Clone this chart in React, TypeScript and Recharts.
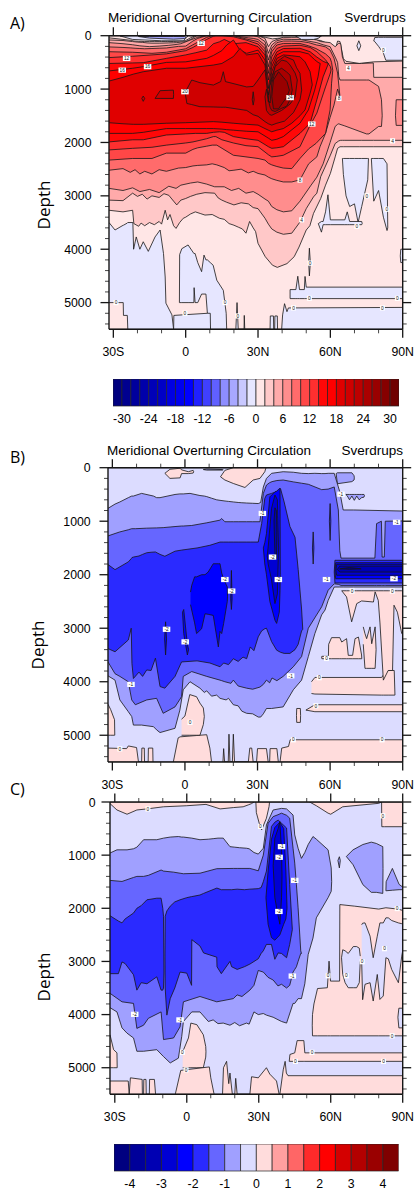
import { Area, Bar, BarChart, ComposedChart, ReferenceDot, XAxis, YAxis } from "recharts";

// every band is a list of [latitude, upper depth, lower depth]
type Row = [number, number, number];
type Tag = [number, number, string];

const latTicks = [-30, -20, -10, 0, 10, 20, 30, 40, 50, 60, 70, 80, 90];
const depthTicks = [0, 200, 400, 600, 800, 1000, 1200, 1400, 1600, 1800, 2000, 2200, 2400, 2600, 2800, 3000, 3200, 3400, 3600, 3800, 4000, 4200, 4400, 4600, 4800, 5000, 5200, 5400];

const scale32 = ["#000080", "#00008f", "#00009c", "#0000aa", "#0000b8", "#0000c6", "#0000e2", "#0000f0", "#0000ff", "#2020ff", "#4040ff", "#6060ff", "#8d8dff", "#a8a8ff", "#c8c8ff", "#e6e6ff", "#ffe6e6", "#ffc8c8", "#ffaaaa", "#ff8d8d", "#ff6b6b", "#ff4747", "#ff2f2f", "#ff0808", "#ff0000", "#e00000", "#cf0000", "#bd0000", "#aa0000", "#990000", "#860000", "#700000"];
const scale18 = ["#000080", "#00009a", "#0000b3", "#0000d4", "#0000ff", "#2a2aff", "#6666ff", "#a0a0ff", "#dcdcff", "#ffdcdc", "#ffa0a0", "#ff6666", "#ff2a2a", "#ff0000", "#d40000", "#b30000", "#9a0000", "#7f0000"];
const ticks32 = ["-30", "-24", "-18", "-12", "-6", "0", "6", "12", "18", "24", "30"];
const ticks18 = ["-4", "-3", "-2", "-1", "0", "1", "2", "3", "4"];

// ---- panel A
const aBase: Row[] = [[-31.8, 0, 5500], [90, 0, 5500]];
const aBlueLeft: Row[] = [[-31.8, 3500, 5000], [-29.3, 3640, 5000], [-25.9, 3550, 5000], [-25.8, 3550, 5240], [-24.2, 3510, 5240], [-24, 3500, 5500], [-21.9, 3500, 5500], [-21.6, 4000, 5500], [-20.5, 3770, 5500], [-19, 4000, 5500], [-17.6, 3860, 5500], [-15.5, 4040, 5500], [-12.7, 3770, 5500], [-10.6, 3640, 5500], [-9.2, 4080, 5500], [-8.5, 4520, 5500], [-8.2, 5010, 5500], [-5.7, 5230, 5500], [-5, 5500, 5500]];
const aBlueMid: Row[] = [[-2.6, 5000, 5000], [-2.5, 4100, 5000], [-1.6, 3990, 5000], [1, 3920, 5000], [3.4, 4080, 5000], [3.5, 4080, 4720], [3.9, 4080, 5000], [5, 4250, 5000], [6.6, 4420, 4840], [7.6, 4110, 4840], [8.4, 4200, 4840], [9, 4200, 5200], [10.2, 4250, 5500], [11.4, 4300, 5500], [12.9, 4580, 5500], [15.6, 4770, 5500], [16.8, 5200, 5500], [17, 5500, 5500]];
const aBlueLow: Row[] = [[-5, 5500, 5500], [-4.9, 5240, 5500], [9, 5200, 5500], [10.2, 5200, 5500], [10.3, 5500, 5500]];
const aStripeUp: Row[] = [[43.3, 4840, 4840], [43.3, 4756, 4925], [45.7, 4756, 4925], [46.5, 4506, 4925], [47.2, 4756, 4925], [49.2, 4756, 4925], [49.5, 4510, 4925], [50, 4710, 4925], [90, 4710, 4925]];
const aStripeLow: Row[] = [[39.8, 5500, 5500], [40.2, 5230, 5500], [41, 5020, 5500], [42, 5170, 5500], [42.6, 5100, 5500], [90, 5090, 5500]];
const aBlueBits: Row[] = [[20.8, 5500, 5500], [21.3, 5000, 5500], [21.8, 5500, 5500], [24.2, 5500, 5500], [24.3, 5240, 5500], [24.5, 5500, 5500], [35, 5500, 5500], [35.1, 5250, 5500], [36.4, 5250, 5500], [36.5, 5500, 5500], [36.9, 5500, 5500], [37, 5250, 5500], [38, 5250, 5500], [38.1, 5500, 5500]];
const aSliver: Row[] = [[51, 4250, 4250], [51.3, 3980, 4500], [51.7, 4250, 4250]];
const aEdge: Row[] = [[89, 4125, 4125], [89.2, 4000, 4250], [90, 4000, 4250]];
const aBlockOne: Row[] = [[65, 2300, 2300], [65.4, 2300, 2600], [66.5, 2300, 3000], [68, 2300, 3200], [70, 2300, 3150], [71.5, 2300, 3500], [73, 2300, 3200], [75.5, 2300, 2700], [75.8, 2300, 2300]];
const aBlockTwo: Row[] = [[77, 2300, 2300], [78, 2300, 3100], [80, 2300, 2900], [82, 2300, 3400], [83.5, 2400, 3650], [83.8, 3600, 3600]];
const aBlockFoot: Row[] = [[55, 3520, 3520], [56.3, 3480, 3680], [57, 3480, 3540], [58, 3300, 3540], [59, 2980, 3540], [60, 3450, 3540], [66, 3450, 3540], [67, 3300, 3540], [68, 3480, 3540], [73, 3480, 3540], [73.2, 3520, 3520]];
const aLensLeft: Row[] = [[-27.2, 5, 5], [-22, 0, 70], [-10, 0, 95], [-1, 0, 95], [0.5, 0, 30], [1, 0, 0]];
const aLensInner: Row[] = [[-19.6, 15, 15], [-15, 15, 45], [-5, 15, 65], [-0.5, 15, 55], [0, 30, 30]];
const aLensRight: Row[] = [[45.4, 0, 0], [48, 0, 70], [53, 0, 70], [55, 20, 50], [56.4, 0, 0]];
const aLensSmall: Row[] = [[71, 190, 190], [71.8, 95, 280], [72.6, 190, 190]];
const aCorner: Row[] = [[78, 100, 100], [78.4, 35, 110], [80, 30, 200], [82, 30, 330], [83, 30, 460], [90, 30, 460]];
const a2: Row[] = [[-31.8, 40, 3270], [-26, 70, 3300], [-22, 90, 3270], [-21.5, 100, 3520], [-19.5, 105, 3570], [-18.5, 105, 3510], [-17, 110, 3560], [-15, 110, 3500], [-13, 110, 3540], [-11, 110, 3480], [-10, 110, 3530], [-8.5, 110, 3270], [-7.5, 110, 3450], [-6.5, 110, 3350], [-5, 108, 3560], [-4, 105, 3610], [-2.5, 100, 3500], [-1, 95, 3420], [0, 90, 3400], [2, 40, 3340], [4, 0, 3300], [6, 0, 3330], [8, 0, 3360], [11, 0, 3350], [14, 0, 3420], [16, 0, 3440], [18, 0, 3520], [20, 0, 3550], [22, 0, 3590], [23.5, 0, 3620], [25, 0, 3700], [26.5, 0, 3480], [28, 0, 3600], [29, 0, 3670], [30, 0, 3890], [33, 30, 4140], [36, 60, 4300], [38, 50, 4340], [42, 35, 4270], [45, 50, 4140], [47, 65, 3960], [50, 70, 3640], [51.5, 72, 3560], [53, 75, 3330], [56, 90, 3050], [58, 130, 2800], [60, 170, 2580], [62, 270, 2270], [63, 100, 2110], [64, 110, 2080], [65.4, 430, 2080], [66.5, 480, 2080], [72, 520, 2080], [78, 490, 2080], [90, 475, 2080]];
const a4: Row[] = [[-31.8, 80, 3080], [-26, 90, 3090], [-22, 110, 2950], [-20, 120, 3010], [-18, 125, 2970], [-16, 135, 3060], [-14, 140, 3000], [-11, 140, 3030], [-9, 138, 2960], [-7, 135, 2990], [-5, 132, 3100], [-3.7, 130, 3170], [-2, 120, 3080], [0, 110, 3050], [2, 70, 3010], [4.6, 0, 2970], [8, 0, 2940], [12, 0, 2950], [13.5, 0, 3040], [15, 0, 3080], [17, 0, 3120], [20, 0, 3170], [23, 0, 3130], [26, 0, 3150], [28, 0, 3220], [30, 0, 3240], [32.9, 50, 3420], [34.3, 206, 3530], [35.7, 112, 3620], [37.8, 70, 3680], [40.5, 30, 3720], [44, 30, 3700], [47.4, 30, 3490], [50, 50, 3240], [53, 70, 3020], [54.4, 80, 2950], [56, 110, 2640], [59.9, 130, 2250], [62, 206, 2020], [63.5, 140, 1970], [64.3, 150, 1960], [65, 400, 1960], [66, 520, 1960], [73, 520, 1960], [77.8, 510, 1960], [78, 780, 1960], [90, 780, 1960]];
const a6: Row[] = [[-31.8, 130, 2860], [-26, 150, 2900], [-22, 170, 2850], [-19, 190, 2920], [-15, 205, 2880], [-11, 195, 2940], [-7, 180, 2820], [-4, 165, 2860], [-2, 150, 2800], [2, 80, 2760], [5, 30, 2740], [8.7, 0, 2780], [12, 0, 2830], [16, 0, 2830], [19, 0, 2900], [22, 0, 2860], [25, 0, 2950], [28, 0, 2920], [30, 20, 2970], [32.9, 110, 3060], [34.3, 330, 3100], [35.7, 175, 3200], [37.8, 95, 3260], [40.5, 65, 3300], [44, 70, 3280], [47.4, 70, 3100], [52, 110, 2800], [54.4, 130, 2650], [57, 170, 2400], [59.9, 206, 2000], [62, 400, 1700], [63, 500, 1660], [63.5, 770, 1650], [64, 830, 1660], [66, 830, 1690], [69, 830, 1740], [75, 830, 1840], [76, 830, 1840], [80, 950, 1700], [81.2, 1200, 1700], [81.5, 1500, 1500]];
const a6Edge: Row[] = [[87, 1500, 1500], [87.3, 1200, 1680], [90, 1200, 1680]];
const a8: Row[] = [[-31.8, 210, 2520], [-26, 220, 2490], [-23, 228, 2560], [-21, 235, 2510], [-19, 240, 2590], [-17, 245, 2540], [-14, 240, 2590], [-11, 235, 2510], [-8, 230, 2540], [-3, 200, 2480], [0, 195, 2470], [3, 100, 2440], [5, 50, 2430], [8.7, 0, 2420], [11, 0, 2400], [12.9, 0, 2420], [16, 0, 2470], [18, 0, 2530], [20, 0, 2520], [23, 20, 2500], [26, 40, 2570], [28, 50, 2540], [30, 70, 2580], [32.9, 175, 2610], [34.3, 456, 2650], [35.7, 240, 2680], [37.8, 130, 2710], [40.5, 100, 2740], [44, 100, 2740], [47.4, 105, 2700], [51, 130, 2400], [54.4, 175, 2270], [55.7, 185, 2080], [58, 210, 1830], [59.9, 270, 1530], [61.5, 420, 1300], [63, 700, 1000], [64, 1150, 1150]];
const a10: Row[] = [[-31.8, 300, 2330], [-22, 310, 2300], [-14, 330, 2300], [-8, 310, 2200], [0, 245, 2200], [3, 170, 2130], [5, 120, 2100], [8.7, 30, 2070], [11, 0, 2050], [12.9, 0, 2050], [19.8, 0, 2240], [25, 60, 2270], [30, 110, 2300], [32.9, 240, 2330], [34.3, 580, 2390], [35.7, 300, 2420], [37.8, 175, 2450], [40.5, 145, 2480], [44, 145, 2490], [47.4, 145, 2300], [51, 190, 2120], [54, 240, 2020], [58, 340, 1830], [59.9, 420, 1390], [60.5, 500, 890], [61, 650, 650]];
const a12: Row[] = [[-31.8, 410, 2140], [-22, 385, 2110], [-14, 360, 2090], [-8, 340, 2050], [0, 280, 2010], [3, 220, 1990], [5.9, 145, 1960], [8.7, 70, 1930], [11.5, 10, 1890], [12.5, 0, 1890], [15, 0, 1950], [19.8, 20, 2010], [25, 80, 2060], [30, 156, 2080], [32.9, 300, 2180], [34.3, 706, 2230], [35.7, 394, 2270], [37.8, 240, 2260], [40.5, 194, 2240], [47.4, 180, 2080], [51.6, 220, 1680], [54.4, 300, 1450], [58, 450, 960], [60, 580, 700], [60.3, 640, 640]];
const a14: Row[] = [[-31.8, 520, 1990], [-22, 510, 1950], [-17.6, 505, 1950], [-8, 425, 1860], [0, 360, 1840], [4, 320, 1830], [8.7, 270, 1830], [11.5, 150, 1810], [14, 115, 1800], [16, 70, 1810], [19.8, 150, 1890], [25, 130, 1930], [30, 206, 1960], [32.9, 360, 2040], [34.3, 830, 2080], [35.7, 490, 2110], [37.8, 300, 2100], [40.5, 240, 2080], [47.4, 235, 1830], [51.6, 300, 1640], [54.4, 400, 1200], [57, 480, 770], [59.2, 520, 520]];
const a16: Row[] = [[-31.8, 660, 1830], [-22, 610, 1830], [-17.6, 580, 1810], [-8, 500, 1740], [0, 490, 1740], [8.7, 425, 1740], [11.5, 370, 1740], [15, 280, 1750], [17, 175, 1760], [19.8, 80, 1770], [22.5, 270, 1780], [25.3, 330, 1790], [30, 270, 1800], [32.9, 456, 1880], [34.3, 990, 1920], [35.7, 580, 1960], [37.8, 360, 1940], [40.5, 300, 1890], [47.4, 300, 1640], [50.9, 340, 1390], [53.5, 450, 1020], [54.9, 500, 770], [55.8, 520, 520]];
const a18: Row[] = [[-31.8, 850, 1630], [-26, 780, 1650], [-21.7, 720, 1660], [-17.6, 675, 1660], [-7.9, 610, 1640], [0, 610, 1630], [11.5, 550, 1610], [15, 520, 1620], [19.8, 390, 1640], [22.5, 240, 1650], [25.3, 360, 1660], [30, 330, 1675], [32.9, 550, 1740], [34.3, 1110, 1770], [35.7, 675, 1800], [37.8, 425, 1770], [40.5, 360, 1740], [44, 375, 1640], [47.4, 395, 1500], [49.5, 490, 1390], [51.6, 675, 1080], [52.5, 920, 920]];
const a20: Row[] = [[-0.3, 1050, 1050], [0.5, 1000, 1270], [2.5, 830, 1290], [5.9, 880, 1330], [11.5, 925, 1335], [14.5, 860, 1340], [15.6, 675, 1340], [16.5, 860, 1340], [25.3, 960, 1400], [28, 950, 1480], [30, 830, 1510], [32.9, 640, 1610], [34.3, 1210, 1650], [35.7, 770, 1675], [37.8, 490, 1640], [41, 385, 1600], [44.7, 456, 1440], [46, 600, 1330], [47.4, 706, 1200], [48.1, 1020, 1020]];
const a20Blob: Row[] = [[-12.7, 1175, 1175], [-10.6, 1030, 1175], [-5.1, 1020, 1175], [-5, 1100, 1100]];
const a20Dot: Row[] = [[-18.2, 1175, 1175], [-17.6, 1130, 1230], [-17, 1175, 1175]];
const a22Oval: Row[] = [[27.6, 1200, 1200], [28, 1050, 1300], [28.4, 1200, 1200]];
const a22: Row[] = [[32.9, 1145, 1145], [33.5, 1000, 1400], [34.3, 1240, 1450], [34.9, 940, 1480], [35.7, 830, 1490], [37.1, 580, 1460], [39.8, 456, 1400], [41.9, 480, 1330], [43.3, 550, 1280], [45.4, 700, 1145], [46.3, 830, 830]];
const a24: Row[] = [[34.3, 1210, 1210], [35, 1260, 1340], [35.7, 890, 1400], [37.1, 675, 1420], [39.8, 610, 1360], [41.9, 680, 1320], [43.3, 740, 1200], [44.2, 1020, 1020]];
const a26: Row[] = [[35.7, 1140, 1140], [36.4, 830, 1370], [38.5, 675, 1370], [40.5, 780, 1240], [42, 860, 1150], [43, 1020, 1020]];
const aTags: Tag[] = [[-24.5, 425, "12"], [-26.3, 645, "16"], [-15.8, 580, "16"], [6.4, 145, "12"], [-0.3, 1050, "20"], [43.3, 1160, "24"], [52.3, 1655, "12"], [63.6, 1175, "8"], [67.5, 610, "4"], [85.8, 1970, "4"], [47.4, 2705, "8"], [48.1, 3450, "4"], [82, 270, "0"], [75.1, 3000, "0"], [83.4, 3250, "0"], [71, 3570, "0"], [51.6, 4260, "0"], [51.3, 4920, "0"], [87.8, 4920, "0"], [44.7, 5100, "0"], [81.6, 5100, "0"], [-28.9, 5000, "0"], [-0.3, 5200, "0"], [16.3, 5000, "0"], [21.6, 5250, "0"]];

// ---- panel B
const bBase: Row[] = [[-31.8, 0, 5500], [90, 0, 5500]];
const bL1: Row[] = [[-31.8, 760, 3890], [-28.9, 680, 3970], [-26.9, 640, 4340], [-23.4, 560, 4560], [-22, 530, 4650], [-21.3, 530, 4810], [-17.9, 480, 4810], [-13, 530, 4840], [-11.7, 560, 4900], [-10.3, 560, 4950], [-4.1, 500, 4870], [-2.1, 490, 4530], [-0.7, 490, 4150], [2.1, 480, 4000], [6.2, 520, 4120], [8, 530, 4200], [9, 540, 4170], [11, 570, 4270], [13.1, 600, 4250], [14.5, 610, 4310], [17, 625, 4340], [18, 630, 4310], [20, 640, 4430], [22, 650, 4450], [23.5, 655, 4550], [25.5, 660, 4590], [28, 665, 4600], [30.3, 670, 4660], [31.3, 650, 4660], [32.4, 360, 4600], [33.7, 200, 4500], [35.8, 105, 4500], [40.6, 75, 4470], [44.8, 85, 4150], [48.2, 105, 3970], [51, 110, 3530], [53.7, 105, 3100], [56.5, 110, 2750], [57.9, 110, 2660], [59.2, 105, 2480], [61.7, 105, 2230], [64, 450, 2230], [65.4, 790, 2230], [69.6, 790, 2230], [90, 810, 2230]];
const bCap: Row[] = [[62.5, 110, 110], [63, 95, 300], [69, 95, 260], [69.9, 150, 230], [70, 190, 190]];
const bTeeth: Row[] = [[66.5, 500, 500], [67, 500, 520], [68, 500, 600], [69, 500, 530], [70, 500, 610], [71, 500, 530], [72, 500, 600], [73, 500, 560], [74, 500, 550], [74.2, 520, 520]];
const bL2: Row[] = [[-31.8, 1275, 3630], [-28.9, 1230, 3850], [-26.9, 1200, 3900], [-23.4, 1160, 4000], [-22, 1140, 4340], [-20.5, 1140, 4430], [-15.8, 1130, 4340], [-11.7, 1125, 4310], [-9, 1120, 4590], [-4.1, 1100, 4470], [-1.4, 1090, 4280], [-0.7, 1090, 3900], [2.8, 1080, 3810], [9, 1030, 3900], [14.5, 980, 3970], [15.2, 950, 3980], [16.5, 1010, 4000], [19, 1010, 4030], [20, 1010, 3970], [22, 1010, 4080], [25.5, 1010, 4120], [28, 1010, 4140], [31, 1010, 4100], [32.4, 480, 4050], [33.7, 325, 3970], [35, 280, 4020], [36, 260, 3930], [38, 240, 3980], [40.6, 230, 3900], [44.8, 265, 3720], [48.2, 290, 3530], [51, 310, 3000], [56.5, 410, 2600], [59.2, 400, 2290], [61.7, 360, 2170], [63.4, 790, 2180], [64, 1550, 2190], [64.5, 1690, 2200], [78.5, 1690, 2200], [79.2, 1045, 2200], [81.2, 1000, 2200], [81.5, 1670, 2200], [82.4, 1670, 2200], [82.8, 1000, 2200], [90, 995, 2200]];
const bL3: Row[] = [[-31.8, 1810, 3380], [-28.9, 1905, 3440], [-23.4, 1760, 3220], [-22.2, 1700, 3000], [-21.9, 1680, 3660], [-21.3, 1670, 3940], [-19, 1650, 3820], [-17.5, 1620, 3900], [-15.8, 1590, 3780], [-14, 1580, 3790], [-12.2, 1575, 3560], [-10.3, 1620, 4090], [-8.3, 1655, 4120], [-4.1, 1560, 3900], [-1.4, 1540, 3630], [5, 1500, 3610], [10.3, 1450, 3650], [14.5, 1390, 3720], [16, 1390, 3650], [18, 1390, 3680], [20, 1390, 3570], [22, 1390, 3620], [24, 1390, 3540], [25.5, 1390, 3570], [27, 1390, 3350], [28.5, 1390, 3420], [30.3, 1390, 3160], [31.7, 1045, 3050], [33, 575, 3010], [33.7, 510, 3000], [35.8, 480, 3250], [37.9, 450, 3410], [39.5, 390, 3450], [41, 640, 3470], [43.4, 1100, 3470], [45.5, 1300, 3400], [46.8, 1900, 3300], [48.2, 2640, 3050], [48.7, 3020, 3020]];
const bL3SliverOne: Row[] = [[52.7, 1500, 1500], [53, 1200, 1800], [53.3, 1500, 1500]];
const bL3SliverTwo: Row[] = [[59.7, 1000, 1000], [60, 670, 1360], [60.3, 1000, 1000]];
const bL4Blob: Row[] = [[2.3, 2325, 2560], [2.8, 2200, 2660], [4, 2040, 2900], [4.8, 2040, 3100], [6.9, 2000, 3010], [8.3, 2000, 2730], [9.6, 1950, 2740], [11.7, 1795, 2760], [13.8, 1795, 3350], [14.5, 1795, 3060], [15.2, 1970, 3100], [16, 2080, 2910], [17.5, 2230, 2500], [17.6, 2400, 2400]];
const bL4SliverOne: Row[] = [[-8.4, 3200, 3200], [-8, 2880, 3500], [-7.6, 3200, 3200]];
const bL4SliverTwo: Row[] = [[-1, 2700, 2700], [-0.5, 2650, 3100], [1, 3300, 3500], [1.5, 3400, 3400]];
const bL4SliverThree: Row[] = [[18.9, 2450, 2450], [19.2, 1920, 2650], [19.5, 2450, 2450]];
const bL4Col: Row[] = [[32.4, 1500, 1500], [33, 1400, 1800], [33.7, 1230, 2000], [35.1, 545, 2500], [37.2, 450, 2850], [37.9, 440, 2910], [39, 390, 2700], [39.3, 390, 2300], [39.4, 2000, 2000]];
const bL5Col: Row[] = [[34, 1650, 1650], [34.4, 1480, 1800], [35.8, 760, 2100], [37.2, 510, 2540], [38.2, 600, 2360], [38.7, 1500, 1500]];
const bL6Col: Row[] = [[36.8, 1000, 1000], [37.2, 750, 1600], [37.8, 800, 1700], [38, 1200, 1200]];
const bBand3: Row[] = [[61.7, 1950, 1950], [62, 1730, 2155], [90, 1730, 2155]];
const bBand4: Row[] = [[62, 1940, 1940], [62.3, 1775, 2075], [90, 1775, 2075]];
const bBand5: Row[] = [[62.4, 1920, 1920], [62.7, 1805, 2010], [90, 1805, 2010]];
const bBand6: Row[] = [[63, 1900, 1900], [64, 1840, 1950], [90, 1840, 1950]];
const bLens: Row[] = [[64, 1890, 1890], [68, 1865, 1900], [72.8, 1890, 1890]];
const bIslandOne: Row[] = [[-8.3, 105, 105], [-6.2, 30, 200], [-2, 10, 190], [-1.4, 40, 110], [1.4, 75, 110], [3.4, 50, 100], [3.6, 75, 75]];
const bLensTop: Row[] = [[7.6, 35, 35], [9, 25, 45], [15.5, 35, 45], [15.8, 35, 35]];
const bIslandTwo: Row[] = [[14.7, 170, 170], [16.5, 50, 230], [20, 0, 295], [24.8, 0, 370], [28.2, 0, 230], [31, 0, 200], [33, 0, 75], [33.5, 0, 0]];
const bPinkRight: Row[] = [[64.8, 2300, 2300], [66.8, 2300, 2415], [68.9, 2300, 2880], [71, 2300, 2540], [73, 2300, 2490], [77.9, 2300, 2510], [78.6, 2300, 2320], [79.9, 2300, 2480], [80.6, 2300, 2900], [82, 2300, 3970], [84, 2300, 3790], [85.8, 2300, 3790], [86.4, 2300, 2570], [87.8, 2300, 2700], [89.6, 2300, 3100], [90, 2300, 3100]];
const bPillar: Row[] = [[73.7, 2975, 3300], [74.4, 3100, 3750], [75.1, 3195, 3750], [76.5, 2975, 3750], [77.2, 3290, 3750], [78.6, 2975, 3750], [79, 3400, 3400]];
const bBlock: Row[] = [[56.5, 3530, 3530], [56.6, 3525, 3570], [59.3, 3525, 3570], [59.4, 3300, 3570], [60.6, 3176, 3570], [64, 3176, 3570], [64.8, 3258, 3570], [66.8, 3195, 3570], [67.5, 3507, 3570], [69.3, 3507, 3570], [70.3, 3195, 3570], [71.7, 3165, 3570], [73, 3500, 3570], [73.1, 3570, 3570]];
const bStair: Row[] = [[52.3, 4000, 4220], [53.7, 3920, 4230], [81.3, 3920, 4250], [82, 3875, 4250], [84, 3790, 4250], [86.5, 3790, 4250], [86.8, 4250, 4250]];
const bStripe: Row[] = [[50, 4530, 4530], [53.7, 4430, 4560], [90, 4430, 4560]];
const bSmall: Row[] = [[46.1, 4630, 4630], [46.2, 4500, 4760], [47.7, 4500, 4760], [47.8, 4630, 4630]];
const bFloor: Row[] = [[39.3, 5500, 5500], [40, 5240, 5500], [42.8, 5210, 5500], [43.5, 5085, 5500], [90, 5085, 5500]];
const bLeft: Row[] = [[-31.8, 4420, 5000], [-30.7, 4520, 5000], [-29.1, 4710, 5000], [-29, 5000, 5000]];
const bFloorLeft: Row[] = [[-31.8, 5240, 5500], [-24.1, 5250, 5500], [-23.4, 5200, 5500], [-20, 5230, 5500], [-19.2, 5500, 5500], [-17.9, 5500, 5500], [-17.8, 5240, 5500], [-16.8, 5240, 5500], [-16.7, 5500, 5500], [-15.2, 5500, 5500], [-15.1, 5240, 5500], [-13.3, 5240, 5500], [-13.2, 5500, 5500]];
const bMid: Row[] = [[-4.8, 5500, 5500], [-2.8, 5050, 5500], [-2, 5030, 5500], [9, 4990, 5500], [10.3, 5240, 5500], [11, 5500, 5500]];
const bMidUp: Row[] = [[-1.4, 4700, 5000], [0, 4640, 5000], [2, 4240, 5000], [4.8, 4280, 5000], [6.2, 4400, 5000], [7.6, 4490, 4800], [8, 4650, 4650]];
const bSpikes: Row[] = [[15.7, 5500, 5500], [16, 5250, 5500], [16.4, 5500, 5500], [17.9, 5500, 5500], [18.2, 4980, 5500], [18.6, 5500, 5500], [19.6, 5500, 5500], [20, 4980, 5500], [20.5, 5500, 5500], [26.2, 5500, 5500], [26.8, 5240, 5500], [27.6, 5240, 5500], [28.2, 5500, 5500], [29.6, 5500, 5500], [30, 5250, 5500], [33.7, 5250, 5500], [34.4, 5500, 5500], [35, 5500, 5500], [35.2, 5250, 5500], [38, 5250, 5500], [38.6, 5500, 5500]];
const bTags: Tag[] = [[32, 855, "-1"], [36.2, 1670, "-2"], [38.6, 2090, "-2"], [58.5, 2090, "-1"], [64.5, 495, "-1"], [87.5, 1020, "-1"], [86.4, 2075, "-2"], [16.5, 2090, "-2"], [19.3, 2305, "-2"], [69.1, 2305, "0"], [85.7, 2305, "0"], [-7.6, 3020, "-2"], [0.1, 3255, "-2"], [-22.3, 4050, "-1"], [43.7, 3890, "-1"], [2.1, 4760, "0"], [55.5, 3925, "0"], [58.5, 3565, "0"], [54.1, 4450, "0"], [44.8, 5085, "0"], [81.5, 5085, "0"], [-26.9, 5255, "0"]];

// ---- panel C
const cBase: Row[] = [[-32, 0, 5500], [90, 0, 5500]];
const cTopPink: Row[] = [[-32, 0, 30], [-29.1, 0, 150], [-24.9, 0, 230], [-20.8, 0, 150], [-16.6, 0, 130], [-9.7, 0, 90], [0, 0, 70], [8, 0, 45], [13.9, 0, 130], [19.4, 0, 105], [23.5, 0, 90], [25.6, 0, 55], [27, 0, 30], [28, 0, 0]];
const cBlobPink: Row[] = [[28.8, 0, 0], [29, 0, 200], [30.5, 0, 450], [31.2, 0, 525], [33.2, 0, 305], [34.3, 0, 85], [34.5, 0, 0]];
const cRightPink: Row[] = [[51.2, 0, 0], [54, 0, 70], [58.9, 0, 210], [60, 0, 230], [65, 0, 90], [80, 0, 25], [81.2, 0, 0], [81.3, 0, 465], [82.4, 0, 465], [90, 0, 465]];
const cL1: Row[] = [[-32, 960, 3870], [-29.1, 900, 3950], [-27, 900, 4250], [-24.9, 900, 4350], [-22.2, 880, 4440], [-20.8, 850, 4690], [-18, 710, 4690], [-12.5, 710, 4660], [-9.7, 680, 4790], [-6.9, 660, 4910], [-3.5, 650, 4820], [-2.1, 660, 4410], [-1.4, 660, 4130], [2.1, 680, 3950], [5.5, 710, 3950], [9, 700, 4130], [11, 690, 4100], [13, 680, 4170], [15.2, 680, 4160], [18, 840, 4200], [20, 850, 4150], [22, 860, 4210], [24.9, 870, 4160], [26, 880, 4180], [28, 950, 3950], [29.8, 980, 4000], [31.9, 870, 3980], [33.2, 430, 4010], [36, 150, 4050], [39.5, 120, 4130], [41.6, 130, 4160], [44.3, 245, 3790], [45, 620, 3790], [46.4, 870, 3700], [47.8, 1060, 3700], [49.2, 950, 3420], [50.6, 800, 2870], [52.6, 650, 2560], [54, 700, 2180], [58.9, 900, 1800], [60.2, 1240, 1680], [60.4, 1500, 1500]];
const cIsle: Row[] = [[66.5, 1025, 1025], [69.3, 900, 1180], [73.4, 800, 1555], [76.9, 755, 1700], [79, 780, 1700], [81.7, 840, 1720], [81.8, 1250, 1250]];
const cIsleEdge: Row[] = [[83, 1670, 1670], [83.1, 1500, 1670], [85.7, 1250, 1660], [88.5, 1550, 1650], [90, 1600, 1650]];
const cIsleSliver: Row[] = [[63, 1100, 1100], [63.6, 1030, 1240], [64, 1100, 1100]];
const cL2: Row[] = [[-32, 1475, 3600], [-27, 1495, 3760], [-22.2, 1420, 3790], [-20.8, 1400, 4260], [-18, 1400, 4200], [-16, 1380, 4070], [-10.7, 1280, 3950], [-9.7, 1300, 4470], [-5.5, 1320, 4440], [-2.8, 1340, 4230], [-1.4, 1350, 3760], [5.5, 1340, 3660], [12.5, 1255, 3760], [19.4, 1250, 3700], [21, 1250, 3630], [23, 1250, 3660], [26.3, 1250, 3540], [28, 1270, 3450], [29.8, 1295, 3170], [31.9, 1000, 3200], [33.9, 400, 3300], [36, 275, 3350], [38, 240, 3460], [39.5, 210, 3430], [41.6, 250, 3500], [42.9, 305, 3450], [44.3, 870, 3200], [45, 1150, 3150], [45.7, 1555, 3100], [46.4, 1990, 3000], [47.5, 2800, 2850], [47.8, 2850, 2850]];
const cL3Left: Row[] = [[-32, 2140, 3230], [-28.5, 2240, 3230], [-27, 2275, 3010], [-25.7, 2200, 3040], [-22.2, 2090, 3250], [-20.8, 2000, 3540], [-19, 1950, 3400], [-16.6, 1840, 3420], [-12.5, 1810, 3290], [-10.7, 1810, 3540], [-10, 2000, 3540], [-9.7, 2150, 3500], [-9.5, 3200, 3200]];
const cL3: Row[] = [[-9.1, 2900, 2900], [-9, 2150, 3500], [-8.3, 2050, 4010], [-6.9, 1960, 3700], [-5, 1880, 3500], [-2.8, 1840, 3200], [0, 1800, 3220], [2, 1780, 3450], [2.1, 1780, 2590], [5.5, 1750, 2710], [7, 1720, 2840], [12.5, 1620, 2920], [12.6, 1620, 3100], [14.4, 1650, 3230], [18, 1650, 3000], [18.7, 1650, 3100], [21, 1640, 3150], [24, 1650, 3100], [26.3, 1640, 3050], [29.8, 1630, 2950], [31, 1610, 2850], [31.9, 1500, 2800], [33.2, 1300, 2680], [35.3, 460, 2680], [36.7, 380, 2960], [38.1, 340, 2840], [39.5, 400, 2850], [41.6, 490, 2930], [42.9, 1555, 2680], [44, 2400, 2400]];
const cL4: Row[] = [[33, 1800, 1800], [33.9, 1300, 2300], [35.3, 700, 2550], [36.7, 480, 2600], [38.8, 380, 2500], [40.4, 500, 2300], [41.3, 1300, 2200], [41.8, 2000, 2000]];
const cL5: Row[] = [[36, 1200, 1200], [36.7, 680, 1800], [38.1, 500, 2150], [38.8, 370, 2300], [39.5, 930, 1800], [39.7, 1400, 1400]];
const cPinkMain: Row[] = [[52.3, 4200, 4200], [52.4, 4000, 4400], [53, 3800, 4400], [54.5, 3510, 4400], [58.6, 3495, 4400], [59.3, 2995, 4400], [59.9, 3370, 4400], [63.7, 3370, 4400], [63.8, 1930, 4400], [70, 1960, 4400], [80, 2015, 4400], [83, 1990, 4400], [88, 2015, 4400], [90, 2040, 4400]];
const cPaleWedge: Row[] = [[72.9, 2310, 2995], [73.3, 2280, 3720], [74.3, 2275, 3430], [76.4, 2525, 3400], [77.7, 2930, 3745], [79.4, 2525, 3245], [80.5, 2275, 3715], [81.9, 2275, 3650], [83, 2180, 2930], [84, 2180, 2950], [85.4, 2230, 3150], [88.2, 2275, 3400], [89.6, 2290, 2900], [90, 2300, 2800]];
const cPalePocket: Row[] = [[64.5, 2930, 2930], [65, 2780, 3245], [66, 2800, 3400], [67.3, 2850, 3495], [69.4, 2720, 3495], [70.8, 2720, 3495], [71.9, 2750, 3400], [72.3, 2900, 3000]];
const cPaleEdge: Row[] = [[88, 4050, 4050], [88.4, 3880, 4250], [90, 3880, 4250]];
const cStripe: Row[] = [[42.7, 4880, 4880], [43, 4750, 4880], [45, 4720, 4880], [46, 4490, 4880], [48.8, 4490, 4880], [49.2, 4720, 4880], [90, 4720, 4880]];
const cFloor: Row[] = [[38.8, 5500, 5500], [40.2, 5040, 5500], [41, 4880, 5500], [41.5, 5100, 5500], [42.2, 5150, 5500], [90, 5150, 5500]];
const cMidUp: Row[] = [[-1.7, 4700, 5000], [0.7, 4440, 5000], [1.7, 4160, 5000], [4.2, 4190, 5000], [6.9, 4380, 5000], [7.9, 4600, 4800], [8, 4700, 4700]];
const cMid: Row[] = [[-4.8, 5500, 5500], [-2.5, 5050, 5500], [9.4, 4985, 5500], [10, 5190, 5500], [11.4, 5500, 5500]];
const cLeft: Row[] = [[-32, 4380, 5000], [-30.5, 4660, 5000], [-29.1, 4720, 5000], [-29, 5000, 5000]];
const cFloorLeft: Row[] = [[-32, 5250, 5500], [-24.4, 5250, 5500], [-24, 5500, 5500], [-23.5, 5190, 5500], [-18.6, 5220, 5500], [-18.5, 5500, 5500], [-18, 5500, 5500], [-17.9, 5220, 5500], [-17, 5220, 5500], [-16.9, 5500, 5500], [-15.6, 5500, 5500], [-15.5, 5220, 5500], [-13.5, 5220, 5500], [-13, 5500, 5500]];
const cSpikes: Row[] = [[14.9, 5500, 5500], [15.3, 5000, 5500], [16.6, 4880, 5500], [17.5, 5300, 5500], [18, 5100, 5500], [19, 5500, 5500], [20, 5500, 5500], [20.4, 5200, 5500], [21, 5500, 5500], [26.3, 5500, 5500], [27, 5170, 5500], [29.8, 5190, 5500], [33.2, 5000, 5500], [34.6, 5120, 5500], [37.4, 5250, 5500], [38.5, 5500, 5500]];
const cTags: Tag[] = [[-16.2, 130, "0"], [81.7, 260, "0"], [30.7, 460, "0"], [39.5, 840, "-1"], [38.5, 1040, "-2"], [45, 1475, "-1"], [38.4, 2060, "-2"], [87.7, 2005, "0"], [82.4, 2760, "0"], [73.1, 3005, "0"], [44, 3275, "-1"], [58.9, 3270, "0"], [66.5, 3270, "0"], [-21.7, 3995, "-2"], [-2.8, 4100, "-1"], [-1.8, 4710, "0"], [-0.3, 5040, "0"], [52.2, 4710, "0"], [45.3, 4880, "0"], [82, 4880, "0"], [85.6, 4400, "0"]];

// painting order, back to front
const layersA: [Row[], string][] = [
  [aBase, "#ffe6e6"], [aBlueLeft, "#e6e6ff"], [aBlueMid, "#e6e6ff"], [aBlueLow, "#e6e6ff"], [aStripeUp, "#e6e6ff"], [aStripeLow, "#e6e6ff"], [aBlueBits, "#e6e6ff"], [aSliver, "#e6e6ff"], [aEdge, "#e6e6ff"], [aBlockOne, "#e6e6ff"], [aBlockTwo, "#e6e6ff"], [aBlockFoot, "#e6e6ff"],
  [a2, "#ffc8c8"], [a4, "#ffaaaa"], [a6, "#ff8d8d"], [a6Edge, "#ff8d8d"], [a8, "#ff6b6b"], [a10, "#ff4747"], [a12, "#ff2f2f"], [a14, "#ff0808"], [a16, "#ff0000"], [a18, "#e00000"], [a20, "#cf0000"], [a20Blob, "#cf0000"], [a20Dot, "#cf0000"], [a22Oval, "#bd0000"], [a22, "#bd0000"], [a24, "#aa0000"], [a26, "#990000"],
  [aLensLeft, "#e6e6ff"], [aLensInner, "#a8a8ff"], [aLensRight, "#e6e6ff"], [aLensSmall, "#e6e6ff"], [aCorner, "#e6e6ff"],
];
const layersB: [Row[], string][] = [
  [bBase, "#dcdcff"], [bLeft, "#ffdcdc"], [bFloorLeft, "#ffdcdc"], [bMid, "#ffdcdc"], [bMidUp, "#ffdcdc"], [bSpikes, "#ffdcdc"], [bFloor, "#ffdcdc"], [bSmall, "#ffdcdc"], [bStripe, "#ffdcdc"], [bStair, "#ffdcdc"], [bPinkRight, "#ffdcdc"], [bPillar, "#ffdcdc"], [bBlock, "#ffdcdc"], [bIslandOne, "#ffdcdc"], [bIslandTwo, "#ffdcdc"],
  [bLensTop, "#a0a0ff"], [bCap, "#a0a0ff"], [bTeeth, "#a0a0ff"], [bL1, "#a0a0ff"], [bL2, "#6666ff"], [bL3, "#2a2aff"], [bL3SliverOne, "#2a2aff"], [bL3SliverTwo, "#2a2aff"], [bBand3, "#2a2aff"], [bL4Blob, "#0000ff"], [bL4SliverOne, "#0000ff"], [bL4SliverTwo, "#0000ff"], [bL4SliverThree, "#0000ff"], [bL4Col, "#0000ff"], [bBand4, "#0000ff"], [bL5Col, "#0000d4"], [bBand5, "#0000d4"], [bL6Col, "#0000b3"], [bBand6, "#0000b3"], [bLens, "#000080"],
];
const layersC: [Row[], string][] = [
  [cBase, "#dcdcff"], [cTopPink, "#ffdcdc"], [cBlobPink, "#ffdcdc"], [cRightPink, "#ffdcdc"], [cPinkMain, "#ffdcdc"], [cPaleWedge, "#dcdcff"], [cPalePocket, "#dcdcff"], [cPaleEdge, "#dcdcff"], [cStripe, "#ffdcdc"], [cFloor, "#ffdcdc"], [cMidUp, "#ffdcdc"], [cMid, "#ffdcdc"], [cLeft, "#ffdcdc"], [cFloorLeft, "#ffdcdc"], [cSpikes, "#ffdcdc"],
  [cL1, "#a0a0ff"], [cIsle, "#a0a0ff"], [cIsleEdge, "#a0a0ff"], [cIsleSliver, "#a0a0ff"], [cL2, "#6666ff"], [cL3Left, "#2a2aff"], [cL3, "#2a2aff"], [cL4, "#0000ff"], [cL5, "#0000d4"],
];

const INK = "#161616";
const sans = "'Liberation Sans', Arial, sans-serif";
const rows = (band: Row[]) => band.map(([lat, top, bot]) => ({ lat, range: [top, bot] }));
const latName = (v: number) => (v === 0 ? "0" : v < 0 ? `${-v}S` : `${v}N`);

function ContourTag({ cx, cy, text }: any) {
  const w = text.length > 1 ? 7.5 : 5;
  return (
    <g>
      <rect x={cx - w / 2} y={cy - 2.6} width={w} height={5.2} fill="#fff" />
      <text x={cx} y={cy + 1.7} fontSize={4.8} textAnchor="middle" fontFamily={sans} fill="#111">{text}</text>
    </g>
  );
}

interface PanelProps {
  top: number;
  height: number;
  left: number;
  plotTop: number;
  plotBottom: number;
  xMin: number;
  layers: [Row[], string][];
  tags: Tag[];
  labelGap: number;
}

function Panel({ top, height, left, plotTop, plotBottom, xMin, layers, tags, labelGap }: PanelProps) {
  const right = 402.7;
  const yTick = (sign: number, text: boolean) => (p: any) => {
    const major = p.payload.value % 1000 === 0;
    return (
      <g>
        <line x1={p.x} x2={p.x + sign * (major ? 8.5 : 4)} y1={p.y} y2={p.y} stroke={INK} strokeWidth={major ? 1.3 : 0.8} />
        {text && major && (
          <text x={p.x - labelGap} y={p.y + 4.5} textAnchor="end" fontSize={12.3} fontFamily={sans} fill="#000">{p.payload.value}</text>
        )}
      </g>
    );
  };
  const xTick = (sign: number, text: boolean) => (p: any) => {
    const major = p.payload.value % 30 === 0;
    return (
      <g>
        <line x1={p.x} x2={p.x} y1={p.y} y2={p.y + sign * (major ? 8.5 : 4)} stroke={INK} strokeWidth={major ? 1.3 : 0.8} />
        {text && major && (
          <text x={p.x} y={p.y + 27} textAnchor="middle" fontSize={12.3} fontFamily={sans} fill="#000">{latName(p.payload.value)}</text>
        )}
      </g>
    );
  };
  const axisLine = { stroke: INK, strokeWidth: 1.4 };
  return (
    <div style={{ position: "absolute", left: 0, top }}>
      <ComposedChart width={417} height={height} margin={{ top: 0, right: 0, bottom: 0, left: 0 }}>
        {layers.map(([band, color], i) => (
          <Area
            key={i}
            data={rows(band)}
            dataKey="range"
            type="linear"
            fill={color}
            fillOpacity={1}
            stroke={INK}
            strokeWidth={0.8}
            dot={false}
            activeDot={false}
            isAnimationActive={false}
          />
        ))}
        <XAxis dataKey="lat" type="number" domain={[xMin, 90]} allowDataOverflow ticks={latTicks} interval={0} height={height - plotBottom} tickSize={0} tickMargin={0} tickLine={false} axisLine={axisLine} tick={xTick(1, true)} />
        <XAxis xAxisId="top" orientation="top" dataKey="lat" type="number" domain={[xMin, 90]} allowDataOverflow ticks={latTicks} interval={0} height={plotTop} tickSize={0} tickMargin={0} tickLine={false} axisLine={axisLine} tick={xTick(-1, false)} />
        <YAxis type="number" reversed domain={[0, 5500]} allowDataOverflow ticks={depthTicks} interval={0} width={left} tickSize={0} tickMargin={0} tickLine={false} axisLine={axisLine} tick={yTick(-1, true)} />
        <YAxis yAxisId="right" orientation="right" type="number" reversed domain={[0, 5500]} allowDataOverflow ticks={depthTicks} interval={0} width={417 - right} tickSize={0} tickMargin={0} tickLine={false} axisLine={axisLine} tick={yTick(1, false)} />
        {tags.map(([lat, depth, text], i) => (
          <ReferenceDot key={i} x={lat} y={depth} r={0} shape={(p: any) => <ContourTag cx={p.cx} cy={p.cy} text={text} />} />
        ))}
      </ComposedChart>
    </div>
  );
}

function ColourBar({ colors, labels, top, left, right, every }: { colors: string[]; labels: string[]; top: number; left: number; right: number; every: number }) {
  const row: Record<string, number | string> = { name: "levels" };
  colors.forEach((_, i) => { row[`c${i}`] = 1; });
  const ticks = labels.map((_, i) => 1 + i * every);
  const tick = (p: any) => (
    <text x={p.x} y={p.y + 17.5} textAnchor="middle" fontSize={12.3} fontFamily={sans} fill="#000">{labels[ticks.indexOf(p.payload.value)]}</text>
  );
  return (
    <div style={{ position: "absolute", left: 0, top }}>
      <BarChart width={417} height={52} layout="vertical" data={[row]} barCategoryGap={0} margin={{ top: 0, right: 417 - right, bottom: 0, left }}>
        <XAxis type="number" domain={[0, colors.length]} allowDataOverflow ticks={ticks} interval={0} height={25.5} tickSize={0} tickMargin={0} tickLine={false} axisLine={false} tick={tick} />
        <YAxis type="category" dataKey="name" hide />
        {colors.map((c, i) => (
          <Bar key={i} dataKey={`c${i}`} stackId="s" fill={c} stroke="#222" strokeWidth={0.7} isAnimationActive={false} />
        ))}
      </BarChart>
    </div>
  );
}

function Note({ x, y, size, family, children, anchorRight }: any) {
  return (
    <div style={{ position: "absolute", top: y, fontSize: size, fontFamily: family, lineHeight: "16px", whiteSpace: "nowrap", color: "#000", ...(anchorRight ? { right: 417 - x } : { left: x }) }}>
      {children}
    </div>
  );
}

function DepthTitle({ x, y }: { x: number; y: number }) {
  return (
    <div style={{ position: "absolute", left: x - 30, top: y - 10, width: 60, height: 20, lineHeight: "20px", textAlign: "center", fontSize: 17, fontFamily: "'Open Sans', sans-serif", transform: "rotate(-90deg)", color: "#000" }}>
      Depth
    </div>
  );
}

export default function App() {
  return (
    <div style={{ position: "absolute", left: 0, top: 0, width: 417, height: 1191, background: "#fff", overflow: "hidden" }}>
      <Panel top={0} height={375} left={109} plotTop={35.7} plotBottom={329.3} xMin={-31.8} layers={layersA} tags={aTags} labelGap={17.5} />
      <Panel top={430} height={365} left={108} plotTop={37.7} plotBottom={332} xMin={-31.8} layers={layersB} tags={bTags} labelGap={17.3} />
      <Panel top={790} height={340} left={110} plotTop={12} plotBottom={304.3} xMin={-32} layers={layersC} tags={cTags} labelGap={14.3} />

      <ColourBar colors={scale32} labels={ticks32} top={379.3} left={113} right={399} every={3} />
      <ColourBar colors={scale18} labels={ticks18} top={1144.3} left={114} right={398.7} every={2} />

      <Note x={108} y={10} size={13.5} family={sans}>Meridional Overturning Circulation</Note>
      <Note x={405.7} y={10} size={13.5} family={sans} anchorRight>Sverdrups</Note>
      <Note x={107} y={443} size={13.5} family={sans}>Meridional Overturning Circulation</Note>
      <Note x={403} y={443} size={13.5} family={sans} anchorRight>Sverdrups</Note>
      <Note x={10} y={15} size={16} family="'Open Sans', sans-serif">A)</Note>
      <Note x={10} y={449} size={16} family="'Open Sans', sans-serif">B)</Note>
      <Note x={10} y={781} size={16} family="'Open Sans', sans-serif">C)</Note>
      <DepthTitle x={44} y={205} />
      <DepthTitle x={38} y={645} />
      <DepthTitle x={44} y={977} />
    </div>
  );
}
